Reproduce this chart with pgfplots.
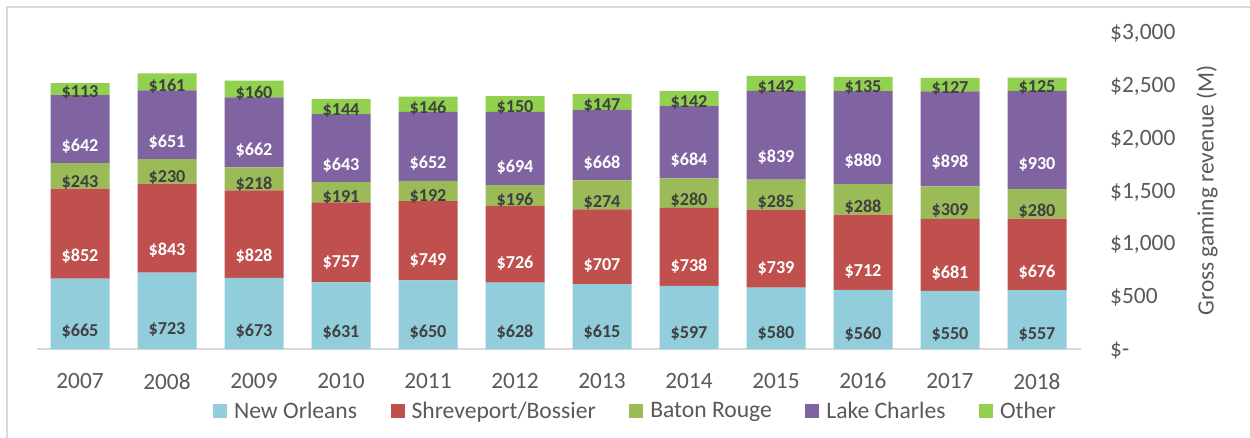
\documentclass[border=0pt]{standalone}
\usepackage{pgfplots}
\usepackage{pgfplotstable}
\pgfplotsset{compat=1.18}
\usepackage{fontspec}
\setmainfont{Carlito}
\definecolor{cNO}{RGB}{146,205,220}
\definecolor{cSB}{RGB}{192,80,77}
\definecolor{cBR}{RGB}{155,187,89}
\definecolor{cLC}{RGB}{128,100,162}
\definecolor{cOT}{RGB}{146,208,80}
\definecolor{txt}{RGB}{89,89,89}
\definecolor{lbl}{RGB}{64,64,64}
\definecolor{frame}{RGB}{217,217,217}
\pgfplotstableread{
x no sb br lc ot
2007 665 852 243 642 113
2008 723 843 230 651 161
2009 673 828 218 662 160
2010 631 757 191 643 144
2011 650 749 192 652 146
2012 628 726 196 694 150
2013 615 707 274 668 147
2014 597 738 280 684 142
2015 580 739 285 839 142
2016 560 712 288 880 135
2017 550 681 309 898 127
2018 557 676 280 930 125
}\data
\pgfplotsset{
  sq/.style={legend image code/.code={\fill[##1] (0pt,-7pt) rectangle (14pt,7pt);}},
}
\begin{document}
\begin{tikzpicture}[x=1pt,y=1pt]
\useasboundingbox (0,-438) rectangle (1250,0);
\fill[white] (0,-438) rectangle (1250,0);
\draw[frame, line width=1.5pt] (7,-460) -- (7,-7) -- (1270,-7);
\begin{axis}[
  at={(36.5pt,-349pt)}, anchor=south west,
  scale only axis, width=1044pt, height=317pt,
  ybar stacked, bar width=59pt,
  xmin=2006.5, xmax=2018.5, ymin=0, ymax=3000,
  xtick={2007,...,2018},
  xticklabels={2007,2008,2009,2010,2011,2012,2013,2014,2015,2016,2017,2018},
  ytick={0,500,1000,1500,2000,2500,3000},
  yticklabels={{\$-},{\$500},{\$1,000},{\$1,500},{\$2,000},{\$2,500},{\$3,000}},
  axis x line*=bottom, axis y line*=right,
  y axis line style={draw=none},
  x axis line style={draw=frame, line width=1.5pt},
  xtick style={draw=none}, ytick style={draw=none},
  xticklabel style={font=\fontsize{23.3}{28}\selectfont, text=txt, inner sep=0pt, anchor=north, yshift=-24pt},
  yticklabel style={font=\fontsize{23.4}{28}\selectfont, text=txt, inner sep=0pt, anchor=base west, xshift=29.5pt, yshift=-7.5pt},
  ylabel={Gross gaming revenue (M)},
  ylabel style={font=\fontsize{23.4}{28}\selectfont, text=txt, at={(axis description cs:1.1212,0.5)}, anchor=center, rotate=0},
  point meta=explicit symbolic,
  nodes near coords={\$\pgfplotspointmeta},
  every node near coord/.append style={font=\bfseries\fontsize{18.2}{21}\selectfont, text=lbl, anchor=center, yshift={-\pgfplotspointmeta*0.02641667}},
  legend columns=-1,
  legend style={draw=none, fill=none, at={(axis description cs:0.5728,-0.1956)}, anchor=center,
    font=\fontsize{23.6}{28}\selectfont, text=txt,
    nodes={inner sep=0pt},
    /tikz/every odd column/.append style={column sep=7pt},
    /tikz/every even column/.append style={column sep=33.5pt}},
]
\addplot[fill=cNO, draw=none, sq] table[x=x, y=no, meta=no] {\data};
\addplot[fill=cSB, draw=none, sq, every node near coord/.append style={text=white}] table[x=x, y=sb, meta=sb] {\data};
\addplot[fill=cBR, draw=none, sq] table[x=x, y=br, meta=br] {\data};
\addplot[fill=cLC, draw=none, sq, every node near coord/.append style={text=white}] table[x=x, y=lc, meta=lc] {\data};
\addplot[fill=cOT, draw=none, sq] table[x=x, y=ot, meta=ot] {\data};
\legend{New Orleans, Shreveport/Bossier, Baton Rouge, Lake Charles, Other}
\end{axis}
\end{tikzpicture}
\end{document}
